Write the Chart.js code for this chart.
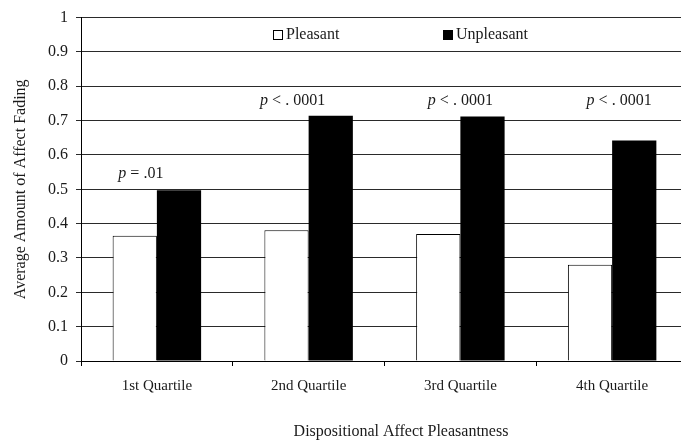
<!DOCTYPE html>
<html>
<head>
  <title>Affect Fading by Dispositional Affect Pleasantness</title>
  <script src="https://cdn.jsdelivr.net/npm/chart.js"></script>
  <style>
    html, body { margin: 0; padding: 0; background: #fff; overflow: hidden; }
    #chart-container { width: 700px; height: 441px; }
  </style>
</head>
<body>
  <div id="chart-container">
    <canvas id="chart"></canvas>
  </div>
  <script>
    // === DATA === //
    const categories = ['1st Quartile', '2nd Quartile', '3rd Quartile', '4th Quartile'];
    const pleasant = [0.365, 0.381, 0.370, 0.280];
    const unpleasant = [0.497, 0.714, 0.712, 0.642];
    const yTickLabels = ['0', '0.1', '0.2', '0.3', '0.4', '0.5', '0.6', '0.7', '0.8', '0.9', '1'];
    const pNotes = [' = .01', ' < . 0001', ' < . 0001', ' < . 0001'];

    // where the p notes sit (layout only)
    const pLevel = [0.545, 0.759, 0.759, 0.759];
    const pOffsetX = [-16, -16, 0, 7];

    const SERIF = '"Liberation Serif", "Times New Roman", serif';
    const TEXT = '#1a1a1a';

    // legend, p values and x title drawn on top
    const annotate = {
      id: 'annotate',
      afterDraw(chart) {
        const ctx = chart.ctx;
        const area = chart.chartArea;
        const x = chart.scales.x;
        const y = chart.scales.y;
        ctx.save();
        ctx.fillStyle = TEXT;
        ctx.textBaseline = 'middle';
        ctx.textAlign = 'left';

        // p values
        pNotes.forEach((note, i) => {
          const cx = x.getPixelForValue(i) + pOffsetX[i];
          const cy = y.getPixelForValue(pLevel[i]);
          ctx.font = 'italic 16px ' + SERIF;
          const wp = ctx.measureText('p').width;
          ctx.font = '16px ' + SERIF;
          const wr = ctx.measureText(note).width;
          const sx = cx - (wp + wr) / 2;
          ctx.font = 'italic 16px ' + SERIF;
          ctx.fillText('p', sx, cy);
          ctx.font = '16px ' + SERIF;
          ctx.fillText(note, sx + wp, cy);
        });

        // legend
        const legendX = [area.left + 192, area.left + 362];
        const legendY = 35;
        chart.data.datasets.forEach((ds, i) => {
          const lx = legendX[i];
          ctx.fillStyle = ds.backgroundColor;
          ctx.fillRect(lx, legendY - 5, 10, 10);
          ctx.strokeStyle = '#000';
          ctx.lineWidth = 1;
          ctx.strokeRect(lx + 0.5, legendY - 4.5, 9, 9);
          ctx.fillStyle = TEXT;
          ctx.font = '16px ' + SERIF;
          ctx.fillText(ds.label, lx + 13, legendY);
        });

        // x title
        ctx.textAlign = 'center';
        ctx.font = '16px ' + SERIF;
        ctx.fillText('Dispositional Affect Pleasantness', area.left + 320, 432);
        ctx.restore();
      }
    };

    const data = {
      labels: categories,
      datasets: [{
        label: 'Pleasant',
        data: pleasant,
        backgroundColor: '#ffffff',
        borderColor: '#000000',
        borderWidth: 1
      }, {
        label: 'Unpleasant',
        data: unpleasant,
        backgroundColor: '#000000',
        borderColor: '#000000',
        borderWidth: 0
      }]
    };

    const config = {
      type: 'bar',
      data: data,
      options: {
        responsive: true,
        maintainAspectRatio: false,
        animation: false,
        categoryPercentage: 0.583,
        barPercentage: 1.0,
        layout: { padding: { top: 16, right: 12, bottom: 0, left: 0 } },
        plugins: {
          legend: { display: false },
          tooltip: { enabled: false }
        },
        scales: {
          x: {
            grid: { offset: true, drawOnChartArea: false, tickLength: 5, color: '#000' },
            border: { color: '#000' },
            ticks: { color: TEXT, font: { family: SERIF, size: 15 }, padding: 11 },
            afterFit: (scale) => { scale.height = 80; }
          },
          y: {
            min: 0,
            max: 1,
            ticks: {
              stepSize: 0.1,
              color: TEXT,
              font: { family: SERIF, size: 16 },
              padding: 8,
              callback: (v, i) => yTickLabels[i]
            },
            grid: { color: '#2a2a2a', tickLength: 5 },
            border: { color: '#000' },
            title: {
              display: true,
              text: 'Average Amount of Affect Fading',
              color: TEXT,
              font: { family: SERIF, size: 16 },
              padding: { top: 11, bottom: 0 }
            },
            afterFit: (scale) => { scale.width = 81; }
          }
        }
      },
      plugins: [annotate]
    };

    const chart = new Chart(document.getElementById('chart'), config);
  </script>
</body>
</html>
